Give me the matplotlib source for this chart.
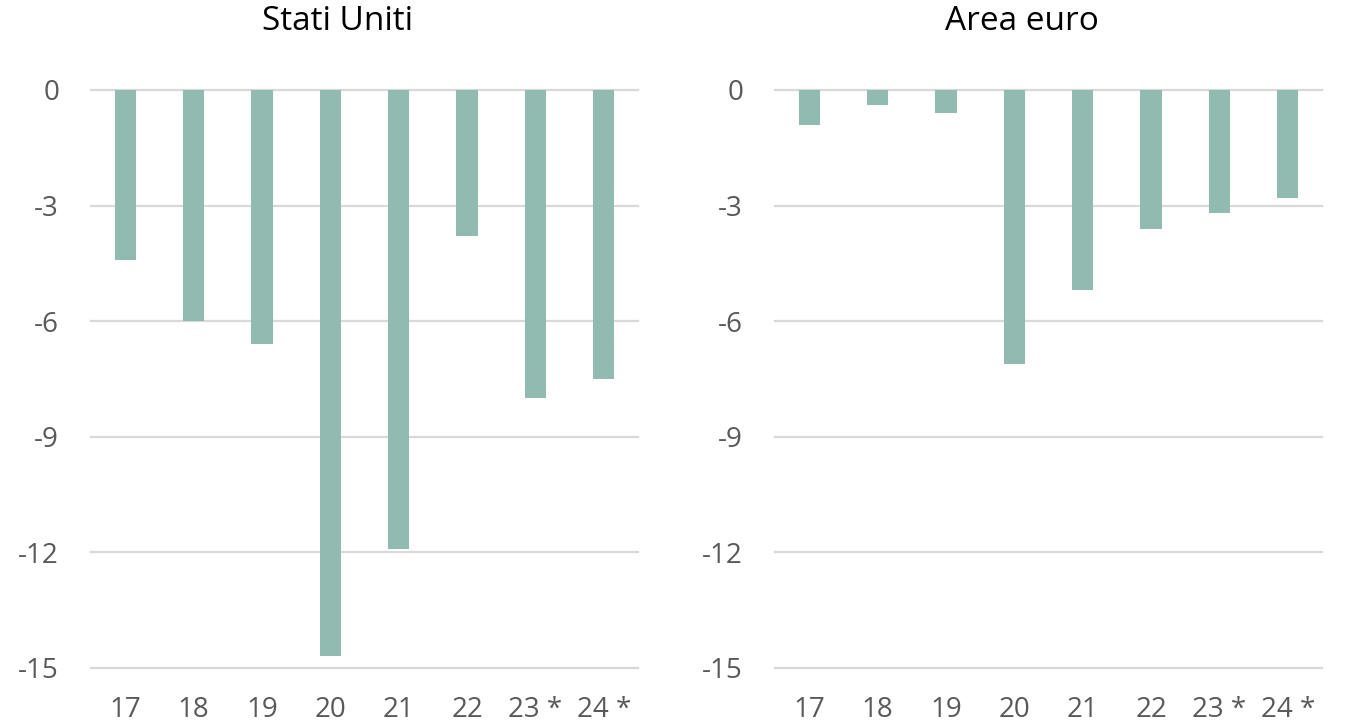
import matplotlib
matplotlib.use("Agg")
import matplotlib.pyplot as plt

years = ["17", "18", "19", "20", "21", "22", "23 *", "24 *"]
usa = [-4.4, -6.0, -6.6, -14.7, -11.9, -3.8, -8.0, -7.5]
euro_area = [-0.9, -0.4, -0.6, -7.1, -5.2, -3.6, -3.2, -2.8]
yticks = [0, -3, -6, -9, -12, -15]

titles = ["Stati Uniti", "Area euro"]
series = [usa, euro_area]

plt.rcParams["font.family"] = ["Open Sans", "DejaVu Sans"]
text_color = "#595959"
bar_color = "#91BBB0"
grid_color = "#D9D9D9"

W, H = 1345, 725
fig = plt.figure(figsize=(W / 100, H / 100), dpi=100)

axes_left = [91, 775]
axes_width = 547
title_x = [338, 1022]
bottom_px, top_px = 668, 90

for i in range(2):
    ax = fig.add_axes([axes_left[i] / W, 1 - bottom_px / H,
                       axes_width / W, (bottom_px - top_px) / H])
    x = list(range(len(years)))
    ax.bar(x, series[i], width=0.31, color=bar_color, zorder=3)
    ax.set_xlim(-0.5, len(years) - 0.5)
    ax.set_ylim(-15, 0)
    ax.set_yticks(yticks)
    ax.set_yticklabels([str(v) for v in yticks])
    ax.set_xticks(x)
    ax.set_xticklabels(years)
    for v in yticks:
        ax.axhline(v, color=grid_color, lw=1.6, zorder=1, clip_on=False)
    for s in ax.spines.values():
        s.set_visible(False)
    ax.tick_params(axis="both", length=0, labelsize=20, colors=text_color)
    ax.tick_params(axis="x", pad=20)
    ax.tick_params(axis="y", pad=23)
    fig.text(title_x[i] / W, 1 - 22 / H, titles[i], ha="center", va="center",
             fontsize=24, color="black")

fig.savefig("out.png", dpi=100, facecolor="white")
